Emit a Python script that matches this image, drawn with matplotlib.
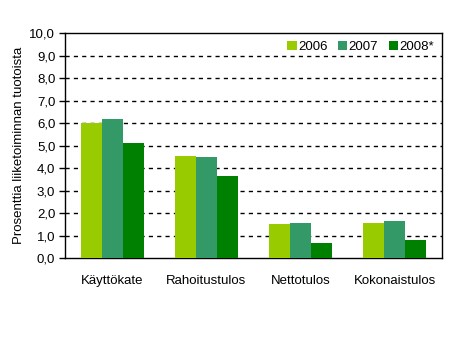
import numpy as np
import matplotlib.pyplot as plt

plt.rcParams['font.family'] = ['Liberation Sans', 'DejaVu Sans']

categories = ['Käyttökate', 'Rahoitustulos', 'Nettotulos', 'Kokonaistulos']
series_names = ['2006', '2007', '2008*']
v2006 = [6.0, 4.53, 1.51, 1.57]
v2007 = [6.18, 4.49, 1.55, 1.66]
v2008 = [5.11, 3.64, 0.67, 0.81]
colors = ['#99CC00', '#339966', '#008000']
yticks = np.arange(0, 11, 1)
ylabel = 'Prosenttia liiketoiminnan tuotoista'

fig = plt.figure(figsize=(4.77, 3.6), dpi=100)
ax = fig.add_axes([0.1363, 0.2825, 0.7897, 0.6255])

x = np.arange(len(categories))
w = 0.223
for i, (vals, name) in enumerate(zip([v2006, v2007, v2008], series_names)):
    ax.bar(x + (i - 1) * w, vals, w, color=colors[i], label=name, zorder=3)

ax.set_xlim(-0.5, len(categories) - 0.5)
ax.set_ylim(0, 10)
ax.set_yticks(yticks)
ax.yaxis.set_major_formatter(plt.FuncFormatter(lambda v, p: ('%.1f' % v).replace('.', ',')))
ax.set_xticks(x)
ax.set_xticklabels(categories, fontsize=9.5)
ax.tick_params(axis='x', length=0, pad=12)
ax.tick_params(axis='y', labelsize=9.5, length=4, width=1, direction='out', pad=3)

# dashed gridlines
for t in yticks[1:-1]:
    ax.axhline(t, color='black', linestyle=(0, (3, 3)), linewidth=1, zorder=1)

for s in ax.spines.values():
    s.set_linewidth(1)
    s.set_color('black')

ax.set_ylabel(ylabel, fontsize=9.5, labelpad=3)

leg = ax.legend(loc='upper right', ncol=3, frameon=False, fontsize=9.5,
                handlelength=0.7, handleheight=0.7, handletextpad=0.1,
                columnspacing=0.8, borderaxespad=0.2, bbox_to_anchor=(1.0, 1.0))

fig.savefig('out.png', dpi=100)
